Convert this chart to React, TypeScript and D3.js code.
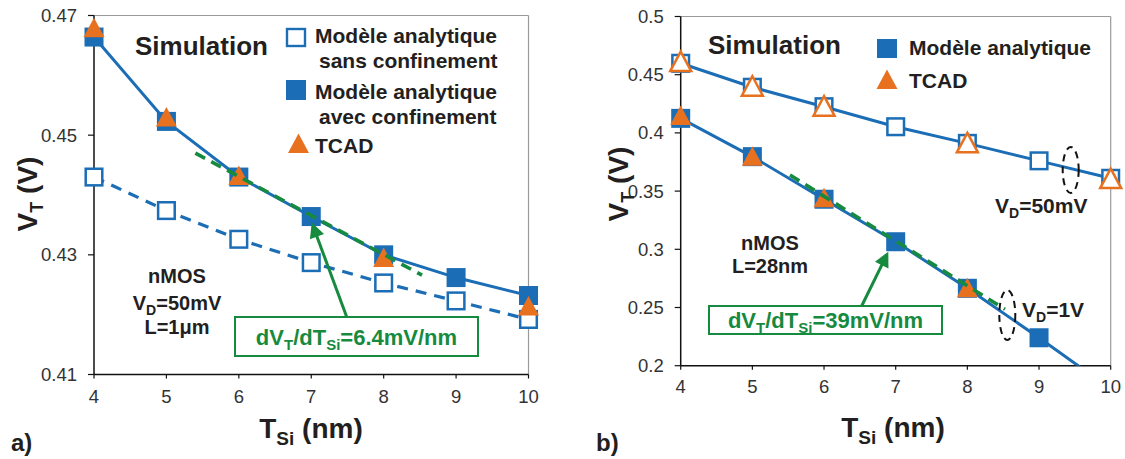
import React from 'react';
import * as d3 from 'd3';

const FONT = '"Liberation Sans", Arial, Helvetica, sans-serif';
const BLUE = '#1b6db5';
const ORANGE = '#e8711f';
const GREEN = '#168a3e';
const TEXT = '#231f20';
const TICKC = '#333333';

// ---------- Data: panel a) ----------
const tsi = [4, 5, 6, 7, 8, 9, 10];
const avecConfA = [0.4664, 0.4523, 0.443, 0.4364, 0.43, 0.4262, 0.4232];
const sansConfA = [0.443, 0.4374, 0.4326, 0.4287, 0.4253, 0.4223, 0.4192];
const tcadAx = [4, 5, 6, 8, 10];
const tcadA = [0.4677, 0.4528, 0.443, 0.4293, 0.4212];
const tangentAx = [5.4, 8.53];
const tangentA = [0.447, 0.4266];
const yTicksA = [0.41, 0.43, 0.45, 0.47];
const yTickLabelsA = ['0.41', '0.43', '0.45', '0.47'];
const xTicks = [4, 5, 6, 7, 8, 9, 10];
const xTickLabels = ['4', '5', '6', '7', '8', '9', '10'];

// ---------- Data: panel b) ----------
const vd50B = [0.4598, 0.4392, 0.4225, 0.4053, 0.391, 0.376, 0.361];
const tcad50Bx = [4, 5, 6, 8, 10];
const tcad50B = [0.46, 0.4388, 0.4217, 0.3902, 0.3595];
const vd1B = [0.4125, 0.3796, 0.343, 0.3065, 0.2665, 0.224, 0.18];
const tcad1Bx = [4, 5, 6, 8];
const tcad1B = [0.4137, 0.3787, 0.343, 0.2656];
const tangentBx = [5.525, 8.525];
const tangentB = [0.3638, 0.2485];
const yTicksB = [0.2, 0.25, 0.3, 0.35, 0.4, 0.45, 0.5];
const yTickLabelsB = ['0.2', '0.25', '0.3', '0.35', '0.4', '0.45', '0.5'];

// ---------- scales ----------
const xA = d3.scaleLinear().domain([4, 10]).range([94, 528.5]);
const yA = d3.scaleLinear().domain([0.41, 0.47]).range([374.5, 15.5]);
const xB = d3.scaleLinear().domain([4, 10]).range([680.7, 1110.7]);
const yB = d3.scaleLinear().domain([0.2, 0.5]).range([365.7, 16.5]);

const TRI = 'M0,-11.5 L10.5,8 L-10.5,8 Z';

type Sc = d3.ScaleLinear<number, number>;

function lineOf(xs: number[], ys: number[], x: Sc, y: Sc) {
  const g = d3.line<number>().x((_, i) => x(xs[i])).y((d) => y(d));
  return g(ys) || '';
}

function Axes({ x, y, yTicks, yLabels, xLabY }: { x: Sc; y: Sc; yTicks: number[]; yLabels: string[]; xLabY: number }) {
  const [x0, x1] = x.range();
  const [y0, y1] = y.range();
  return (
    <g>
      <line x1={x0} x2={x1} y1={y1} y2={y1} stroke="#9a9a9a" strokeWidth={1.2} />
      <line x1={x1} x2={x1} y1={y1} y2={y0} stroke="#9a9a9a" strokeWidth={1.2} />
      <line x1={x0} x2={x0} y1={y1} y2={y0} stroke="#111" strokeWidth={1.5} />
      <line x1={x0} x2={x1} y1={y0} y2={y0} stroke="#111" strokeWidth={1.5} />
      {yTicks.map((t, i) => (
        <g key={'y' + i}>
          <line x1={x0 - 6} x2={x0} y1={y(t)} y2={y(t)} stroke="#111" strokeWidth={1.2} />
          <text x={x0 - 17} y={y(t) + 6.5} textAnchor="end" fontSize={18.5} fill={TICKC} fontFamily={FONT}>
            {yLabels[i]}
          </text>
        </g>
      ))}
      {xTicks.map((t, i) => (
        <g key={'x' + i}>
          <line x1={x(t)} x2={x(t)} y1={y0} y2={y0 + 4} stroke="#111" strokeWidth={1.2} />
          <text x={x(t)} y={xLabY} textAnchor="middle" fontSize={18.5} fill={TICKC} fontFamily={FONT}>
            {xTickLabels[i]}
          </text>
        </g>
      ))}
    </g>
  );
}

function Squares({ xs, ys, x, y, filled }: { xs: number[]; ys: number[]; x: Sc; y: Sc; filled: boolean }) {
  return (
    <g>
      {ys.map((v, i) =>
        filled ? (
          <rect key={i} x={x(xs[i]) - 9.5} y={y(v) - 9.5} width={19} height={19} fill={BLUE} />
        ) : (
          <rect key={i} x={x(xs[i]) - 8.3} y={y(v) - 8.3} width={16.6} height={16.6} fill="#fff" stroke={BLUE} strokeWidth={2.5} />
        )
      )}
    </g>
  );
}

function Triangles({ xs, ys, x, y, filled }: { xs: number[]; ys: number[]; x: Sc; y: Sc; filled: boolean }) {
  return (
    <g>
      {ys.map((v, i) => (
        <path
          key={i}
          d={TRI}
          transform={`translate(${x(xs[i])},${y(v)})`}
          fill={filled ? ORANGE : '#fff'}
          stroke={ORANGE}
          strokeWidth={filled ? 0 : 2.5}
          strokeLinejoin="miter"
        />
      ))}
    </g>
  );
}

function Arrow({ x1, y1, x2, y2 }: { x1: number; y1: number; x2: number; y2: number }) {
  const dx = x2 - x1;
  const dy = y2 - y1;
  const L = Math.sqrt(dx * dx + dy * dy);
  const ux = dx / L;
  const uy = dy / L;
  const hl = 15;
  const hw = 7.5;
  const bx = x2 - ux * hl;
  const by = y2 - uy * hl;
  const px = -uy;
  const py = ux;
  return (
    <g>
      <line x1={x1} y1={y1} x2={bx + ux * 2} y2={by + uy * 2} stroke={GREEN} strokeWidth={3} />
      <path d={`M${x2},${y2} L${bx + px * hw},${by + py * hw} L${bx - px * hw},${by - py * hw} Z`} fill={GREEN} />
    </g>
  );
}

function SlopeBox({ x, y, w, h, value }: { x: number; y: number; w: number; h: number; value: string }) {
  return (
    <g>
      <rect x={x} y={y} width={w} height={h} fill="#fff" stroke={GREEN} strokeWidth={2} />
      <text x={x + w / 2} y={y + h / 2 + 8} textAnchor="middle" fontFamily={FONT} fontWeight="bold" fontSize={22} fill={GREEN}>
        dV<tspan fontSize={15} dy={5}>T</tspan>
        <tspan dy={-5}>/dT</tspan>
        <tspan fontSize={15} dy={5}>Si</tspan>
        <tspan dy={-5}>{'=' + value}</tspan>
      </text>
    </g>
  );
}

function BoldText({ x, y, size, children, anchor }: any) {
  return (
    <text x={x} y={y} fontFamily={FONT} fontWeight="bold" fontSize={size} fill={TEXT} textAnchor={anchor || 'start'}>
      {children}
    </text>
  );
}

function YLabel({ x, y }: { x: number; y: number }) {
  return (
    <text transform={`translate(${x},${y}) rotate(-90)`} textAnchor="middle" fontFamily={FONT} fontWeight="bold" fontSize={28} fill={TEXT}>
      V<tspan fontSize={18} dy={6}>T</tspan>
      <tspan dy={-6}> (V)</tspan>
    </text>
  );
}

function XLabel({ x, y }: { x: number; y: number }) {
  return (
    <text x={x} y={y} textAnchor="middle" fontFamily={FONT} fontWeight="bold" fontSize={28} fill={TEXT}>
      T<tspan fontSize={19} dy={7}>Si</tspan>
      <tspan dy={-7}> (nm)</tspan>
    </text>
  );
}

export default function App() {
  const [bx0, bx1] = xB.range();
  const [by0, by1] = yB.range();
  return (
    <svg width={1125} height={459} style={{ position: 'absolute', left: 0, top: 0, background: '#fff' }}>
      <defs>
        <clipPath id="clipB">
          <rect x={bx0} y={by1} width={bx1 - bx0} height={by0 - by1} />
        </clipPath>
      </defs>
      <rect x={0} y={0} width={1125} height={459} fill="#fff" />

      {/* ================= Panel a ================= */}
      <Axes x={xA} y={yA} yTicks={yTicksA} yLabels={yTickLabelsA} xLabY={403} />
      <path d={lineOf(tsi, sansConfA, xA, yA)} fill="none" stroke={BLUE} strokeWidth={3.2} strokeDasharray="11,8" />
      <path d={lineOf(tsi, avecConfA, xA, yA)} fill="none" stroke={BLUE} strokeWidth={3} />
      <Squares xs={tsi} ys={sansConfA} x={xA} y={yA} filled={false} />
      <Squares xs={tsi} ys={avecConfA} x={xA} y={yA} filled={true} />
      <Triangles xs={tcadAx} ys={tcadA} x={xA} y={yA} filled={true} />
      <path d={lineOf(tangentAx, tangentA, xA, yA)} fill="none" stroke={GREEN} strokeWidth={3.6} strokeDasharray="11,7" />
      <SlopeBox x={235} y={317} w={243} h={39} value="6.4mV/nm" />
      <Arrow x1={xA(7.49)} y1={317} x2={xA(7.007)} y2={yA(0.4354)} />

      <BoldText x={135} y={55} size={26}>Simulation</BoldText>
      {/* legend a */}
      <rect x={287} y={29} width={18} height={17} fill="#fff" stroke={BLUE} strokeWidth={2.4} />
      <BoldText x={315} y={43} size={21}>Modèle analytique</BoldText>
      <BoldText x={319} y={68} size={21}>sans confinement</BoldText>
      <rect x={286} y={80} width={20} height={20} fill={BLUE} />
      <BoldText x={315} y={99} size={21}>Modèle analytique</BoldText>
      <BoldText x={319} y={124} size={21}>avec confinement</BoldText>
      <path d={TRI} transform="translate(298.5,145)" fill={ORANGE} />
      <BoldText x={315} y={153} size={21}>TCAD</BoldText>

      <BoldText x={177} y={283} size={20} anchor="middle">nMOS</BoldText>
      <text x={177} y={310} fontFamily={FONT} fontWeight="bold" fontSize={20} fill={TEXT} textAnchor="middle">
        V<tspan fontSize={14} dy={5}>D</tspan>
        <tspan dy={-5}>=50mV</tspan>
      </text>
      <BoldText x={177} y={334} size={20} anchor="middle">L=1μm</BoldText>

      <YLabel x={37} y={194} />
      <XLabel x={311} y={438} />
      <BoldText x={11} y={451} size={24}>a)</BoldText>

      {/* ================= Panel b ================= */}
      <Axes x={xB} y={yB} yTicks={yTicksB} yLabels={yTickLabelsB} xLabY={393} />
      <g clipPath="url(#clipB)">
        <path d={lineOf(tsi, vd50B, xB, yB)} fill="none" stroke={BLUE} strokeWidth={3} />
        <path d={lineOf(tsi, vd1B, xB, yB)} fill="none" stroke={BLUE} strokeWidth={3} />
      </g>
      <Squares xs={tsi} ys={vd50B} x={xB} y={yB} filled={false} />
      <Squares xs={tsi.slice(0, 6)} ys={vd1B.slice(0, 6)} x={xB} y={yB} filled={true} />
      <Triangles xs={tcad50Bx} ys={tcad50B} x={xB} y={yB} filled={false} />
      <Triangles xs={tcad1Bx} ys={tcad1B} x={xB} y={yB} filled={true} />
      <path d={lineOf(tangentBx, tangentB, xB, yB)} fill="none" stroke={GREEN} strokeWidth={3.6} strokeDasharray="11,7" />
      <SlopeBox x={709} y={306} w={233} h={28} value="39mV/nm" />
      <Arrow x1={xB(6.525)} y1={306} x2={xB(6.897)} y2={yB(0.298)} />

      <ellipse cx={1070.7} cy={170} rx={8} ry={23} fill="none" stroke="#111" strokeWidth={2} strokeDasharray="7,5" />
      <ellipse cx={1007.3} cy={315} rx={8} ry={25} fill="none" stroke="#111" strokeWidth={2} strokeDasharray="7,5" />
      <text x={995} y={213} fontFamily={FONT} fontWeight="bold" fontSize={21} fill={TEXT}>
        V<tspan fontSize={14} dy={5}>D</tspan>
        <tspan dy={-5}>=50mV</tspan>
      </text>
      <text x={1022} y={317} fontFamily={FONT} fontWeight="bold" fontSize={21} fill={TEXT}>
        V<tspan fontSize={14} dy={5}>D</tspan>
        <tspan dy={-5}>=1V</tspan>
      </text>

      <BoldText x={708} y={54} size={26}>Simulation</BoldText>
      <rect x={877} y={39} width={20} height={19} fill={BLUE} />
      <BoldText x={909} y={55} size={21}>Modèle analytique</BoldText>
      <path d={TRI} transform="translate(887,81)" fill={ORANGE} />
      <BoldText x={909} y={88} size={21}>TCAD</BoldText>

      <BoldText x={770} y={250} size={20} anchor="middle">nMOS</BoldText>
      <BoldText x={770} y={273} size={20} anchor="middle">L=28nm</BoldText>

      <YLabel x={628} y={184} />
      <XLabel x={893} y={437} />
      <BoldText x={596} y={451} size={24}>b)</BoldText>
    </svg>
  );
}
